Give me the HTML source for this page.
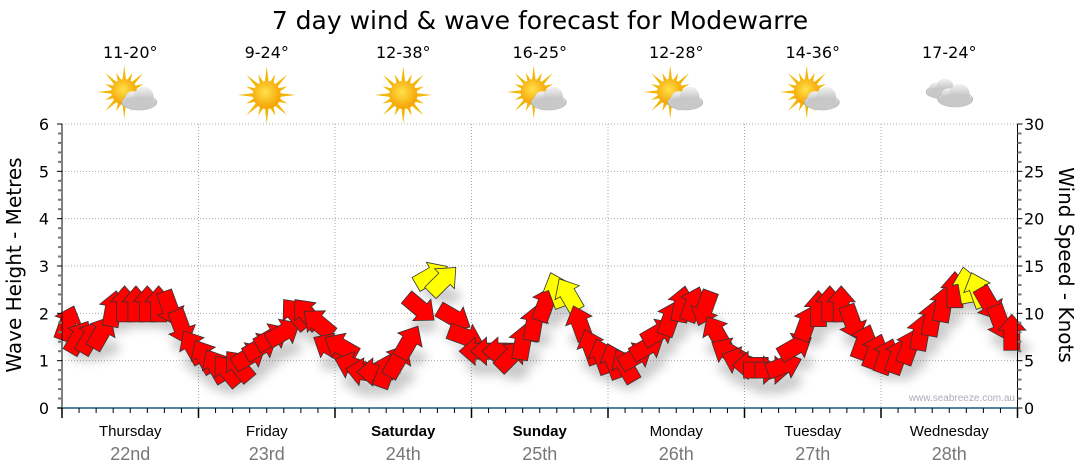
<!DOCTYPE html>
<html><head><meta charset="utf-8">
<style>
html,body{margin:0;padding:0;background:#fff;}
svg{display:block;font-family:"DejaVu Sans","Liberation Sans",sans-serif;}
</style></head>
<body>
<svg id="chart" width="1080" height="475" viewBox="0 0 1080 475">
<defs>
<filter id="shadow" x="-50%" y="-50%" width="200%" height="200%"><feGaussianBlur stdDeviation="5"/></filter>
<radialGradient id="sunG" cx="0.45" cy="0.4" r="0.6"><stop offset="0" stop-color="#ffe14a"/><stop offset="1" stop-color="#f5a000"/></radialGradient>
<linearGradient id="cloudG" x1="0" y1="0" x2="0" y2="1"><stop offset="0" stop-color="#f2f2f2"/><stop offset="1" stop-color="#a9a9a9"/></linearGradient>
</defs>
<text x="540" y="29" text-anchor="middle" font-size="25" fill="#000">7 day wind &amp; wave forecast for Modewarre</text>
<g id="header"></g>
<g id="grid"></g>
<g id="shadows" filter="url(#shadow)" opacity="0.3"></g>
<g id="arrows"></g>
<g id="axes"></g>
<text x="1015" y="401" text-anchor="end" font-size="10" fill="#aab" font-family="Liberation Sans, sans-serif">www.seabreeze.com.au</text>
<text transform="translate(21,265) rotate(-90)" text-anchor="middle" font-size="20" fill="#000">Wave Height - Metres</text>
<text transform="translate(1059,265) rotate(90)" text-anchor="middle" font-size="20" fill="#000">Wind Speed - Knots</text>
</svg>
<script>
const dayNames = ["Thursday","Friday","Saturday","Sunday","Monday","Tuesday","Wednesday"];
const dayDates = ["22nd","23rd","24th","25th","26th","27th","28th"];
const boldDays = [false,false,true,true,false,false,false];
const temps = ["11-20°","9-24°","12-38°","16-25°","12-28°","14-36°","17-24°"];
const icons = ["partly","sun","sun","partly","partly","partly","cloud"];
const leftTicks = [0,1,2,3,4,5,6];
const rightTicks = [0,5,10,15,20,25,30];
const windKnots = [
 9,7.5,7.5,8,10.5,11,11,11,11,10.5,8.5,6.5,
 5.5,4.5,4,4.5,5.5,6.5,7.5,8,10,10,9,6.5,
 6.5,4.5,3.8,3.8,4,5,7,10.5,14,13.5,9.5,7.5,
 6,6,6,5.5,7,9,11,12.5,12,9,6.5,5.5,
 5,4.5,5.5,6.5,8,9.5,11,11,10.5,8,6,5,
 4.5,4,4,4.5,6.5,9,10.5,11,11,9,7,6,
 5.5,5.5,6.5,8,9.5,11,12.5,13,12.5,11,9,8
];
const windDir = [
 20,30,30,30,10,0,0,0,0,160,160,330,
 330,330,320,320,60,60,60,60,320,320,310,300,
 300,290,280,270,20,30,30,130,60,45,120,110,
 270,270,270,45,10,10,20,340,330,340,340,340,
 340,330,60,60,60,20,10,20,200,330,300,290,
 270,90,90,70,60,20,0,0,0,160,20,20,
 20,20,20,10,10,10,0,350,340,150,160,0
];
const windYellow = [
 0,0,0,0,0,0,0,0,0,0,0,0,
 0,0,0,0,0,0,0,0,0,0,0,0,
 0,0,0,0,0,0,0,0,1,1,0,0,
 0,0,0,0,0,0,0,1,1,0,0,0,
 0,0,0,0,0,0,0,0,0,0,0,0,
 0,0,0,0,0,0,0,0,0,0,0,0,
 0,0,0,0,0,0,0,1,1,0,0,0
];
const NS="http://www.w3.org/2000/svg";
const X0=62, X1=1017.5, Y0=408, Y1=124;
const dayW=(X1-X0)/7;
function xDay(d){return X0+d*dayW;}
function yM(m){return Y0-(m/6)*(Y0-Y1);}
function yK(k){return Y0-(k/30)*(Y0-Y1);}
function xIdx(i){return X0+(i+0.5)*dayW/12;}
function mk(tag,attrs,parent){const e=document.createElementNS(NS,tag);for(const k in attrs)e.setAttribute(k,attrs[k]);parent.appendChild(e);return e;}
const grid=document.getElementById('grid'), axes=document.getElementById('axes'), header=document.getElementById('header');
leftTicks.forEach(v=>{ if(v===0) return;
 const l=mk('line',{x1:X0,x2:X1,y1:yM(v),y2:yM(v),stroke:'#aaa','stroke-dasharray':'1,2'},grid);
 
 
});
for(let d=1;d<7;d++){
 const l=mk('line',{x1:xDay(d),x2:xDay(d),y1:Y1,y2:Y0,stroke:'#aaa','stroke-dasharray':'1,2'},grid);
 
 
}
mk('line',{x1:X0,x2:X0,y1:Y1,y2:Y0,stroke:'#000'},axes);
mk('line',{x1:X1,x2:X1,y1:Y1,y2:Y0,stroke:'#000'},axes);
mk('line',{x1:X0-4,x2:X1,y1:Y0,y2:Y0,stroke:'#1d5a7e','stroke-width':1.5},axes);
for(let v=0;v<=30;v++){
 const y=yK(v), major=v%5===0;
 mk('line',{x1:X0-(major?5:4),x2:X0,y1:y,y2:y,stroke:major?'#000':'#777','stroke-width':major?1:2},axes);
 mk('line',{x1:X1,x2:X1+(major?5:4),y1:y,y2:y,stroke:major?'#000':'#777','stroke-width':major?1:2},axes);
}
leftTicks.forEach(v=>{
 const t=mk('text',{x:49,y:yM(v)+6,'text-anchor':'end','font-size':16,fill:'#000'},axes);
 t.textContent=v;
 
 
});
rightTicks.forEach(v=>{
 const t=mk('text',{x:1024,y:yK(v)+6,'font-size':16,fill:'#000'},axes);
 t.textContent=v;
 
 
});
for(let i=0;i<=56;i++){
 const x=X0+i*dayW/8, major=i%8===0;
 mk('line',{x1:x,x2:x,y1:Y0,y2:Y0+(major?10:5),stroke:'#000','stroke-width':major?1.5:1},axes);
}
function sun(g,cx,cy,r){
 for(let a=0;a<360;a+=22.5){
  const rad=a*Math.PI/180, L=(a%45===0)?r*2.05:r*1.6;
  const p=[[cx+Math.cos(rad)*L,cy+Math.sin(rad)*L],[cx+Math.cos(rad+0.14)*r*0.95,cy+Math.sin(rad+0.14)*r*0.95],[cx+Math.cos(rad-0.14)*r*0.95,cy+Math.sin(rad-0.14)*r*0.95]];
  mk('polygon',{points:p.map(q=>q.join(',')).join(' '),fill:'#f2b705'},g);
 }
 mk('circle',{cx:cx,cy:cy,r:r,fill:'url(#sunG)'},g);
}
function cloud(g,cx,cy,s){
 mk('ellipse',{cx:cx,cy:cy+3*s,rx:16*s,ry:7*s,fill:'url(#cloudG)',stroke:'#999','stroke-width':0.5},g);
 mk('circle',{cx:cx-6*s,cy:cy,r:7*s,fill:'url(#cloudG)'},g);
 mk('circle',{cx:cx+4*s,cy:cy-2*s,r:9*s,fill:'url(#cloudG)'},g);
 mk('ellipse',{cx:cx,cy:cy+4*s,rx:15*s,ry:6*s,fill:'#c8c8c8'},g);
}
for(let d=0;d<7;d++){
 const cx=xDay(d)+dayW/2;
 const t=mk('text',{x:cx,y:58,'text-anchor':'middle','font-size':16,fill:'#000'},header);
 t.textContent=temps[d];
 
 
 const g=mk('g',{},header);
 
 
 if(icons[d]==='sun'){sun(g,cx,95,14);}
 else if(icons[d]==='partly'){sun(g,cx-6,92,13);cloud(g,cx+9,99,1.1);}
 else {cloud(g,cx-8,89,0.95);cloud(g,cx+6,96,1.1);}
 const n=mk('text',{x:cx,y:436,'text-anchor':'middle','font-size':15,fill:'#000','font-weight':boldDays[d]?'bold':'normal','font-family':'Liberation Sans, sans-serif'},header);
 n.textContent=dayNames[d];
 
 
 const dt=mk('text',{x:cx,y:460,'text-anchor':'middle','font-size':18,fill:'#777','font-family':'Liberation Sans, sans-serif'},header);
 dt.textContent=dayDates[d];
 
 
}
const arrowsG=document.getElementById('arrows'), shG=document.getElementById('shadows');
const shape="M-8,18 L8,18 L8,-2 L14,-2 L0,-18 L-14,-2 L-8,-2 Z";
windKnots.forEach((k,i)=>{
 const x=xIdx(i), y=yK(k);
 mk('ellipse',{cx:x+4,cy:y+16,rx:14,ry:8,fill:'#555'},shG);
 const a=mk('path',{d:shape,transform:`translate(${x},${y}) rotate(${windDir[i]})`,fill:windYellow[i]?'#ffff00':'#ff0000',stroke:'#333','stroke-width':0.8},arrowsG);
 
 
});
</script>
</body></html>
